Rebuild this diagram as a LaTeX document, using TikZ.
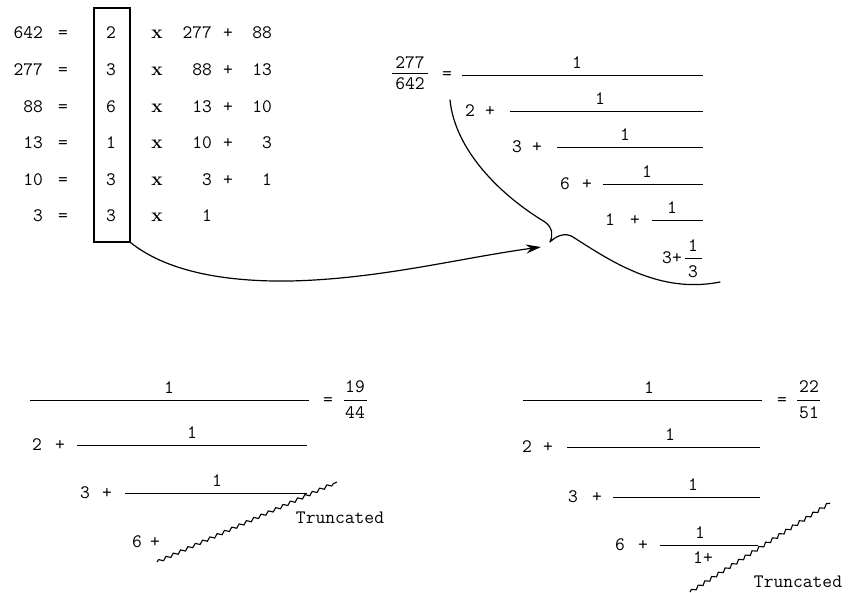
\documentclass[tikz,border=0pt]{standalone}
\usetikzlibrary{arrows.meta,decorations.pathmorphing}
\tikzset{
  txt/.style={inner sep=0pt, outer sep=0pt, anchor=base, font=\fontsize{19}{21}\selectfont\ttfamily},
  rtxt/.style={txt, anchor=base east},
  timesx/.style={txt, font=\fontsize{19}{21}\selectfont\rmfamily\bfseries},
  bar/.style={line width=0.9pt},
  boxed/.style={draw, line width=1.2pt, inner sep=0pt},
  hand/.style={line width=1.2pt, line cap=round, line join=round},
  squiggle/.style={line width=1.1pt, decorate, decoration={snake, amplitude=1.5pt, segment length=8pt}},
  arrowline/.style={hand, -{Stealth[length=15pt,width=9pt]}}
}
\begin{document}
\begin{tikzpicture}[x=1pt,y=-1pt]
\useasboundingbox (0,0) rectangle (854,592);
% ---------- left block: Euclid ----------
\node[boxed, minimum width=36pt, minimum height=234pt] (box) at (112,125) {};
\foreach \i/\y/\l/\q/\a in {1/38.5/642/2/277, 2/75.5/277/3/88, 3/112/88/6/13, 4/148.5/13/1/10, 5/185/10/3/3, 6/221.5/3/3/1}{
  \node[rtxt] (l\i) at (43,\y) {\l};
  \node[txt] (e\i) at (63,\y) {=};
  \node[txt] (q\i) at (111,\y) {\q};
  \node[timesx] (m\i) at (157,\y) {x};
  \node[rtxt] (a\i) at (212,\y) {\a};
}
\foreach \i/\y/\b in {1/38.5/88, 2/75.5/13, 3/112/10, 4/148.5/3, 5/185/1}{
  \node[txt] (p\i) at (228,\y) {+};
  \node[rtxt] (b\i) at (272,\y) {\b};
}
% ---------- top right continued fraction ----------
\node[txt] (fn) at (410,68.5) {277};
\node[txt] (fd) at (410,89.5) {642};
\draw[bar] (392,73) -- (428,73);
\node[txt] (feq) at (447,79) {=};
\draw[bar] (462,75) -- (703,75);
\node[txt] (r1n) at (577,68.5) {1};
\node[txt] (r2a) at (470,116.5) {2};
\node[txt] (r2p) at (490,116.5) {+};
\draw[bar] (510,111) -- (703,111);
\node[txt] (r2n) at (600,104.5) {1};
\node[txt] (r3a) at (517,152.5) {3};
\node[txt] (r3p) at (537,152.5) {+};
\draw[bar] (557,147) -- (703,147);
\node[txt] (r3n) at (625,140.5) {1};
\node[txt] (r4a) at (565,189.5) {6};
\node[txt] (r4p) at (587,189.5) {+};
\draw[bar] (603,184) -- (703,184);
\node[txt] (r4n) at (647,177.5) {1};
\node[txt] (r5a) at (610,225.5) {1};
\node[txt] (r5p) at (635,225.5) {+};
\draw[bar] (652,220) -- (703,220);
\node[txt] (r5n) at (672,213.5) {1};
\node[txt] (r6a) at (672,263.5) {3+};
\node[txt] (r6n) at (693,251) {1};
\draw[bar] (685,258) -- (702,258);
\node[txt] (r6d) at (693,277) {3};
% brace-like hand curve
\draw[hand] (450,100) .. controls (455,150) and (500,195) .. (545,222)
  .. controls (553,228) and (553,236) .. (550,242)
  .. controls (556,236) and (565,232) .. (573,237)
  .. controls (612,262) and (660,294) .. (720,282);
\coordinate (tip) at (541,247);
\draw[arrowline] (box.south east) .. controls (165,270) and (220,282) .. (290,281)
  .. controls (380,279) and (460,258) .. (tip);
% ---------- bottom left ----------
\draw[bar] (30,400) -- (309,400);
\node[txt] (bl1n) at (169,393.5) {1};
\node[txt] (bleq) at (328,405) {=};
\node[txt] (bl19) at (355,392.5) {19};
\draw[bar] (344,400) -- (367,400);
\node[txt] (bl44) at (355,418.5) {44};
\node[txt] (bl2a) at (37,450) {2};
\node[txt] (bl2p) at (60,450) {+};
\draw[bar] (77,445) -- (307,445);
\node[txt] (bl2n) at (192,438.5) {1};
\node[txt] (bl3a) at (85,498.5) {3};
\node[txt] (bl3p) at (107,498.5) {+};
\draw[bar] (125,493) -- (307,493);
\node[txt] (bl3n) at (217,486.5) {1};
\node[txt] (bl4a) at (137,547.5) {6};
\node[txt] (bl4p) at (155,547.5) {+};
\draw[squiggle] (157,562) -- (337,482);
\node[txt] (bltr) at (340,523.5) {Truncated};
% ---------- bottom right ----------
\draw[bar] (523,400) -- (762,400);
\node[txt] (br1n) at (649,393.5) {1};
\node[txt] (breq) at (782,405) {=};
\node[txt] (br22) at (809,392.5) {22};
\draw[bar] (797,400) -- (820,400);
\node[txt] (br51) at (809,418.5) {51};
\node[txt] (br2a) at (527,452.5) {2};
\node[txt] (br2p) at (548,452.5) {+};
\draw[bar] (567,447) -- (760,447);
\node[txt] (br2n) at (670,440.5) {1};
\node[txt] (br3a) at (573,502.5) {3};
\node[txt] (br3p) at (597,502.5) {+};
\draw[bar] (613,497) -- (760,497);
\node[txt] (br3n) at (693,490.5) {1};
\node[txt] (br4a) at (620,550.5) {6};
\node[txt] (br4p) at (643,550.5) {+};
\draw[bar] (660,545) -- (758,545);
\node[txt] (br4n) at (700,538.5) {1};
\node[txt] (br4d) at (703,563.5) {1+};
\draw[squiggle] (690,592) -- (830,503);
\node[txt] (brtr) at (798,587.5) {Truncated};
\end{tikzpicture}
\end{document}
